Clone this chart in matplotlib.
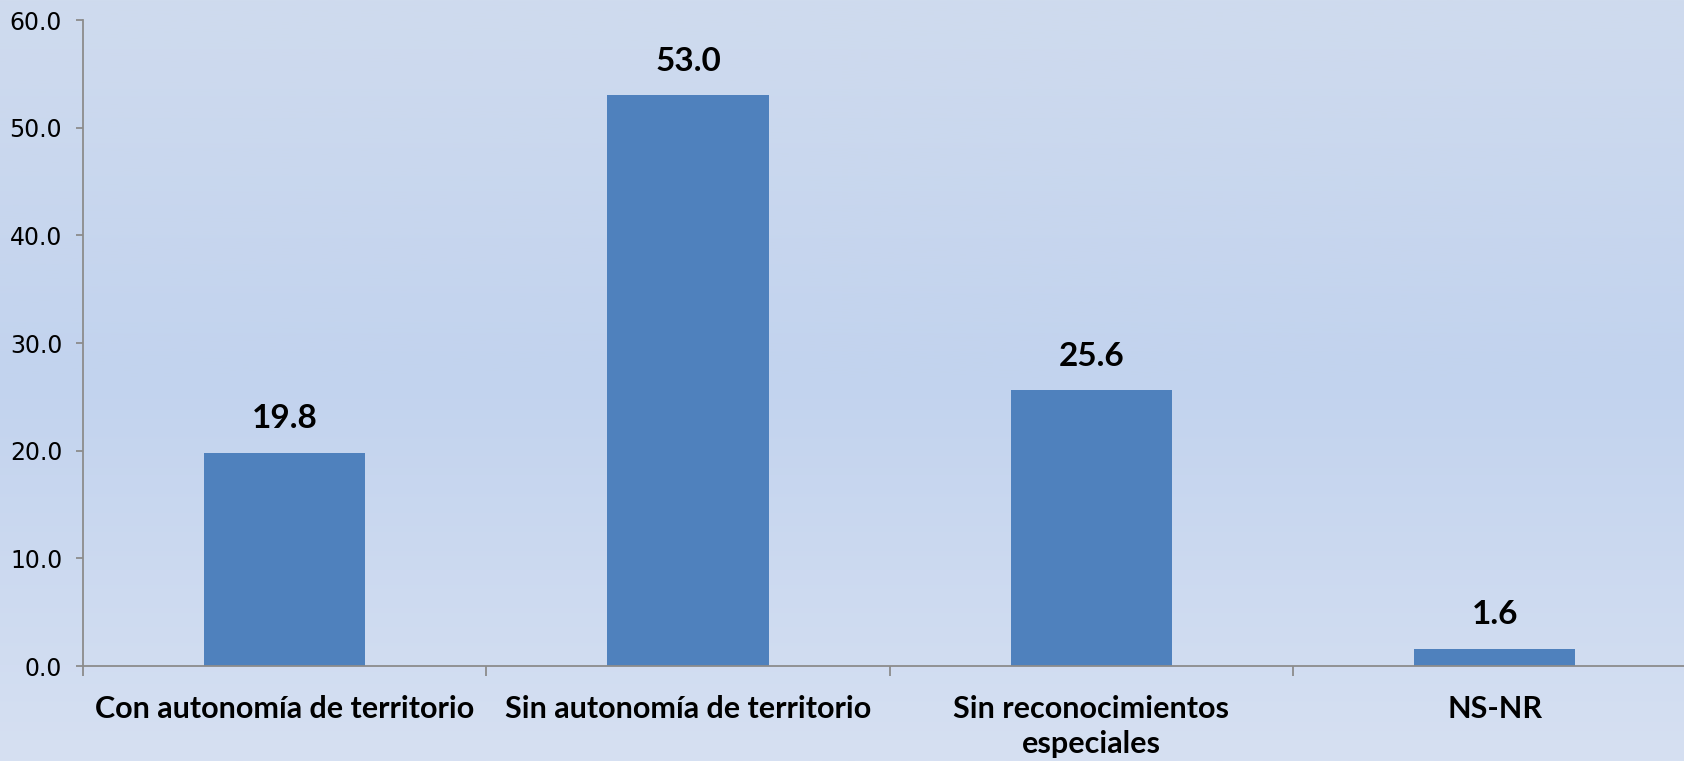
import numpy as np
import matplotlib
matplotlib.use("Agg")
import matplotlib.pyplot as plt
from matplotlib.colors import LinearSegmentedColormap

# datos del grafico
categorias = ["Con autonomía de territorio", "Sin autonomía de territorio",
              "Sin reconocimientos\nespeciales", "NS-NR"]
valores = [19.8, 53.0, 25.6, 1.6]
yticks = [0, 10, 20, 30, 40, 50, 60]

fig = plt.figure(figsize=(16.84, 7.61), dpi=100)

# fondo degradado
bg = fig.add_axes([0, 0, 1, 1], zorder=-1)
cmap = LinearSegmentedColormap.from_list("fondo", ["#CFDBEE", "#C2D3EE", "#D6E0F2"])
grad = np.linspace(0, 1, 256).reshape(-1, 1)
bg.imshow(grad, aspect="auto", cmap=cmap, extent=[0, 1, 0, 1], origin="upper")
bg.axis("off")

ax = fig.add_axes([0.0493, 0.1248, 0.958, 0.8489])
ax.patch.set_alpha(0)
x = np.arange(len(categorias))
ax.bar(x, valores, width=0.4, color="#4F81BD")

for xi, v in zip(x, valores):
    ax.annotate(f"{v:.1f}", (xi, v), xytext=(0, 14), textcoords="offset points",
                ha="center", va="bottom", fontsize=24, fontweight="bold",
                family="Lato")

ax.set_xlim(-0.5, len(categorias) - 0.5)
ax.set_ylim(0, 60)
ax.set_yticks(yticks)
ax.set_yticklabels([f"{t:.1f}" for t in yticks], fontsize=17)
ax.tick_params(axis="y", length=5, color="#8C8C8C", width=1.3, pad=10)

# ticks en los limites de categoria, etiquetas en el centro
ax.set_xticks(np.arange(-0.5, len(categorias), 1.0))
ax.set_xticklabels([])
ax.set_xticks(x, minor=True)
ax.set_xticklabels(categorias, minor=True, fontsize=22, fontweight="bold", family="Lato",
                   linespacing=1.3, va="top")
ax.tick_params(axis="x", which="major", length=7, color="#8C8C8C", width=1.3)
ax.tick_params(axis="x", which="minor", length=0, pad=21)

for s in ["top", "right"]:
    ax.spines[s].set_visible(False)
for s in ["left", "bottom"]:
    ax.spines[s].set_color("#8C8C8C")
    ax.spines[s].set_linewidth(1.3)

fig.savefig("out.png", dpi=100)
